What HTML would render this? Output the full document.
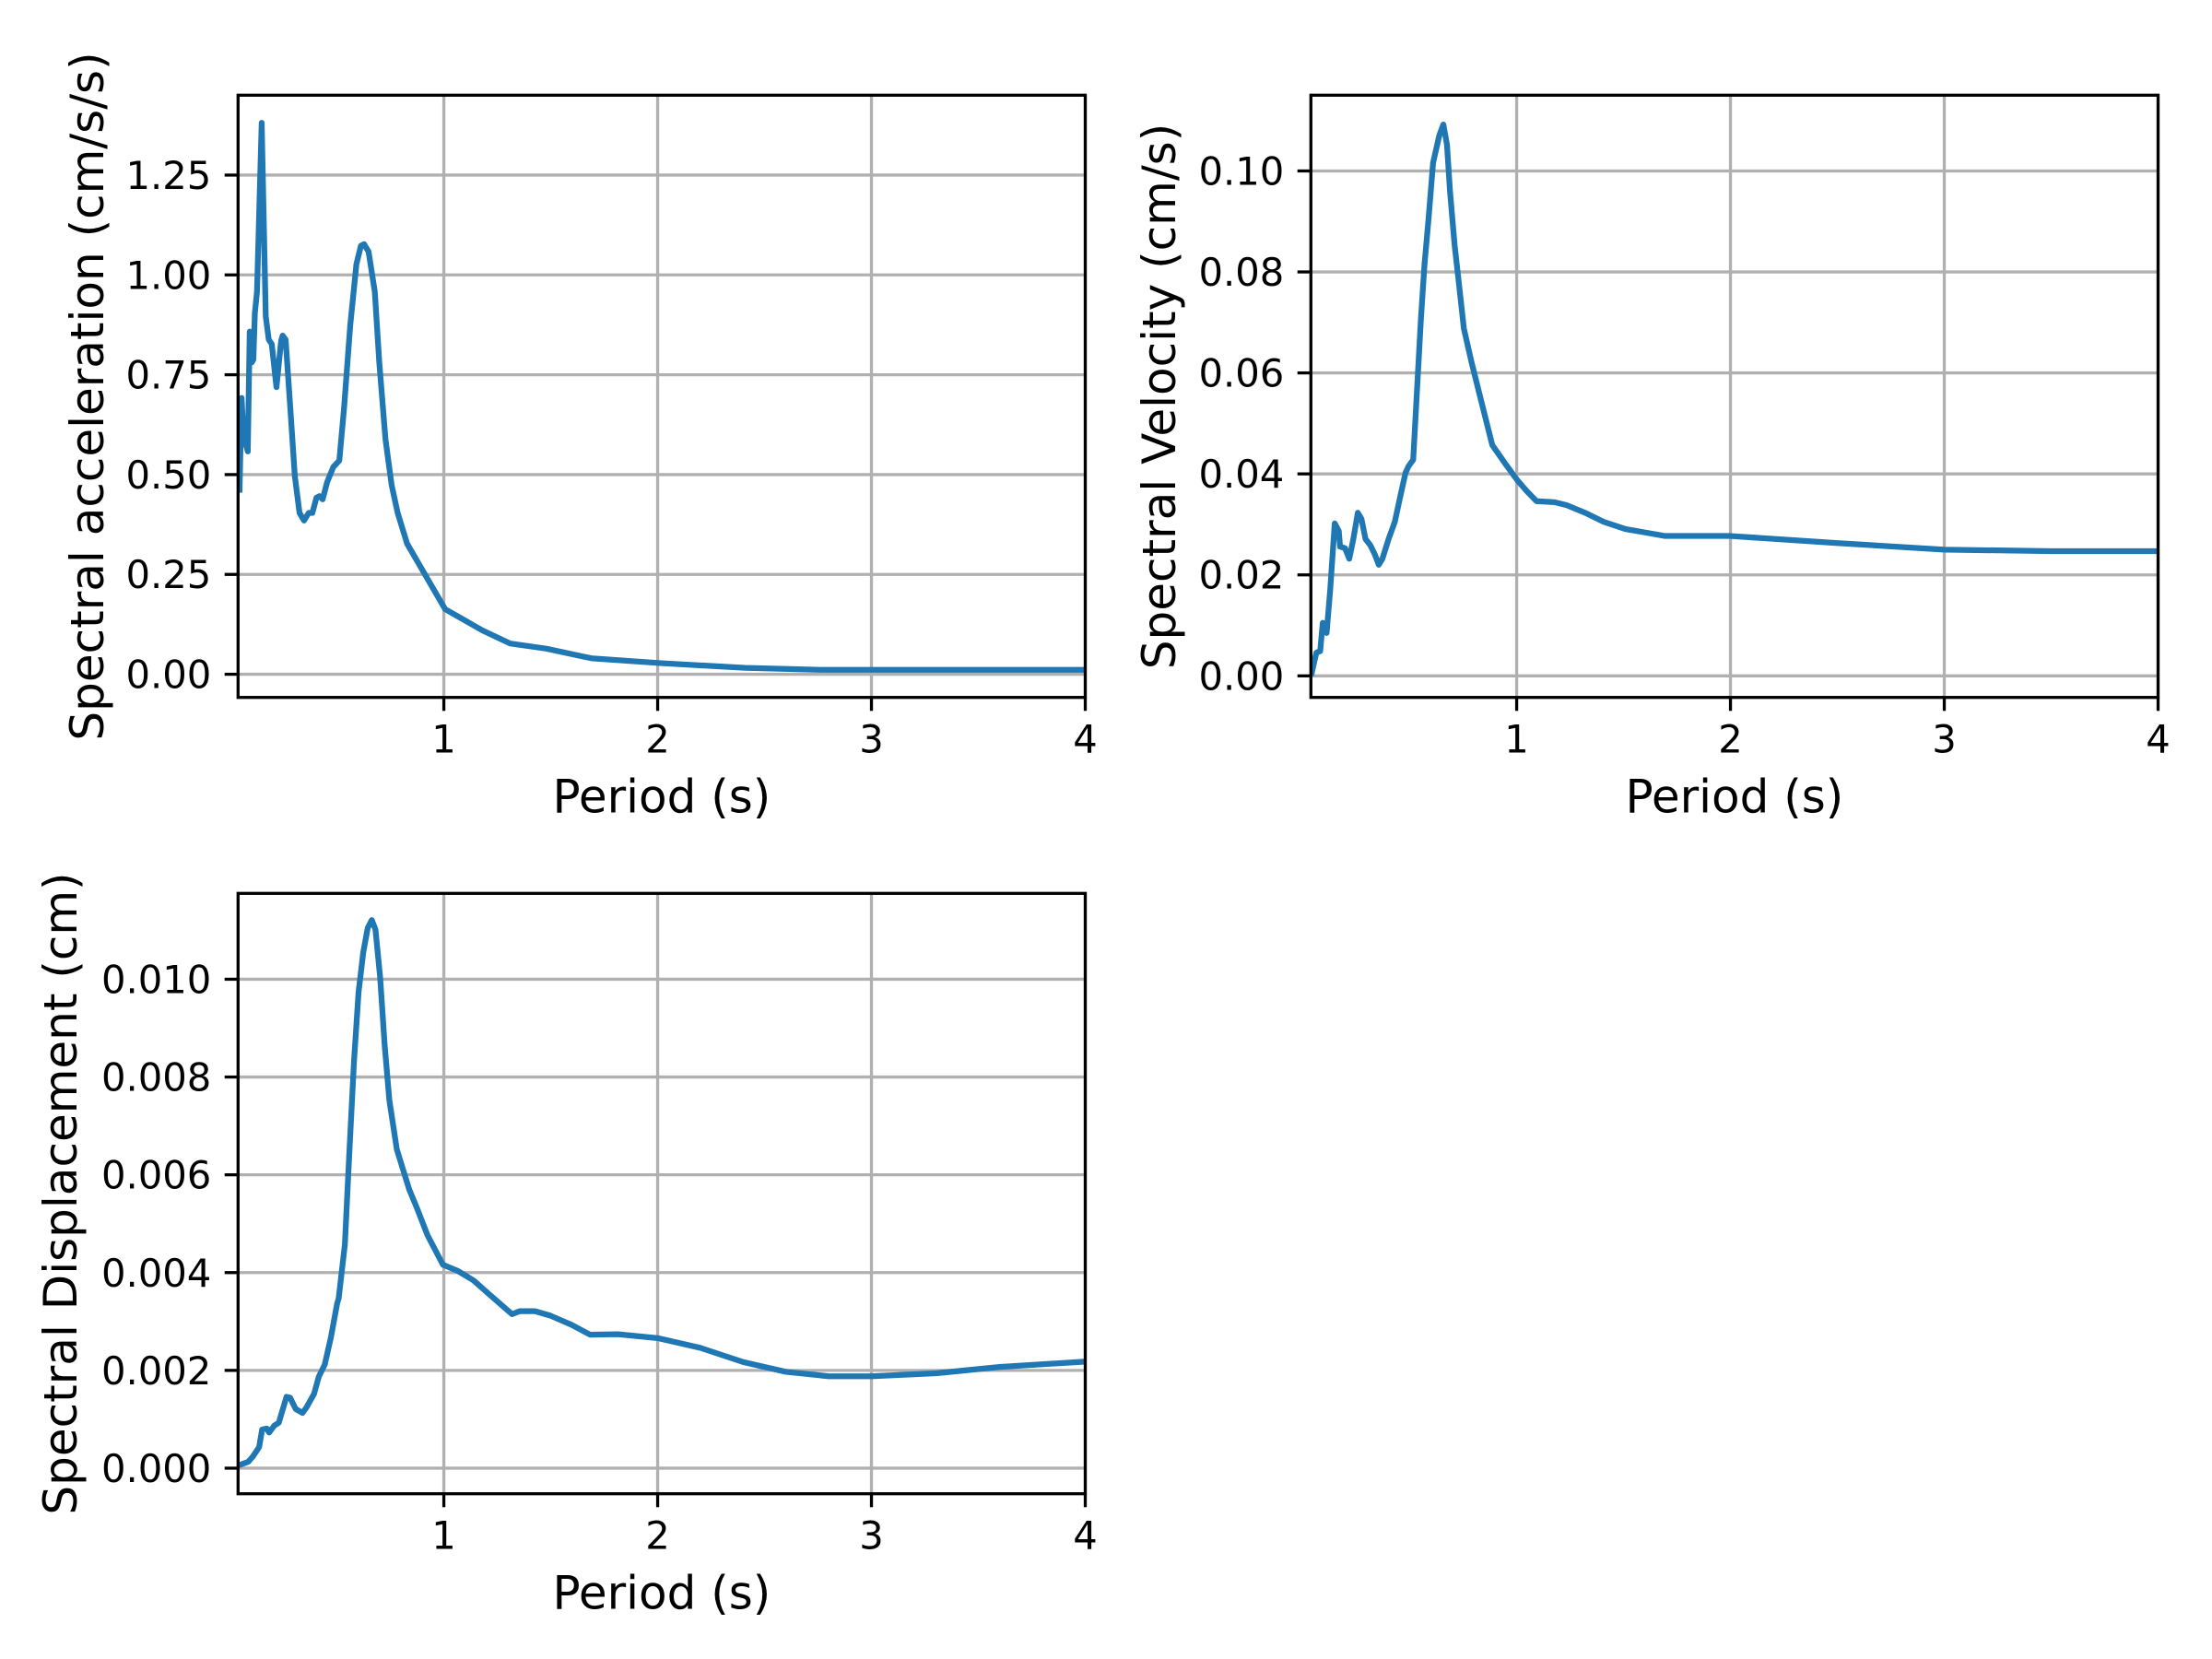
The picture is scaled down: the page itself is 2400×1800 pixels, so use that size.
<!DOCTYPE html>
<html><head><meta charset="utf-8"><style>
html,body{margin:0;padding:0;background:#fff;}
svg{display:block;font-family:"DejaVu Sans","Liberation Sans",sans-serif;}
</style></head><body>
<svg id="fig" width="2400" height="1800" viewBox="0 0 2400 1800" xmlns="http://www.w3.org/2000/svg">
<rect width="2400" height="1800" fill="#fff"/>
</svg>
<script>
// Spectral acceleration (cm/s/s)
const accPeriods = [0.0445,0.054,0.063,0.083,0.092,0.102,0.109,0.116,0.126,0.148,0.167,0.181,0.195,0.217,0.239,0.246,0.260,0.282,0.303,0.325,0.346,0.368,0.385,0.404,0.418,0.433,0.454,0.483,0.511,0.533,0.562,0.591,0.612,0.627,0.648,0.677,0.698,0.727,0.756,0.784,0.828,0.878,1.006,1.18,1.31,1.48,1.69,2.01,2.41,2.77,4.0];
const accValues = [0.462,0.692,0.596,0.558,0.858,0.781,0.788,0.904,0.958,1.381,0.896,0.838,0.827,0.719,0.835,0.848,0.838,0.665,0.496,0.404,0.385,0.404,0.404,0.442,0.446,0.438,0.481,0.519,0.535,0.665,0.873,1.027,1.073,1.077,1.058,0.958,0.781,0.588,0.473,0.404,0.327,0.281,0.163,0.110,0.077,0.064,0.040,0.028,0.016,0.011,0.011];
// Spectral velocity (cm/s)
const velPeriods = [0.0417,0.063,0.081,0.093,0.111,0.128,0.149,0.168,0.174,0.197,0.217,0.236,0.257,0.274,0.293,0.315,0.336,0.355,0.372,0.401,0.430,0.458,0.480,0.494,0.516,0.530,0.552,0.569,0.588,0.609,0.638,0.657,0.674,0.688,0.710,0.731,0.753,0.789,0.832,0.886,0.947,1.004,1.047,1.093,1.177,1.234,1.320,1.407,1.507,1.694,2.0,2.5,3.0,3.5,4.0];
const velValues = [0.0006,0.0046,0.0049,0.0105,0.0085,0.0171,0.0302,0.0287,0.0256,0.0253,0.0232,0.0271,0.0323,0.0311,0.0271,0.0259,0.0241,0.0220,0.0232,0.0271,0.0305,0.0360,0.0402,0.0415,0.0428,0.0536,0.0706,0.0815,0.0906,0.1016,0.1070,0.1092,0.1052,0.0961,0.0852,0.0773,0.0688,0.0621,0.0548,0.0457,0.0420,0.0387,0.0366,0.0346,0.0344,0.0338,0.0323,0.0305,0.0291,0.0277,0.0277,0.0263,0.0250,0.0247,0.0247];
// Spectral displacement (cm)
const dispPeriods = [0.0416,0.085,0.107,0.136,0.150,0.172,0.183,0.207,0.228,0.243,0.264,0.281,0.307,0.339,0.357,0.393,0.415,0.443,0.472,0.501,0.508,0.537,0.558,0.580,0.601,0.623,0.644,0.663,0.680,0.702,0.723,0.745,0.780,0.838,0.874,0.924,0.996,1.067,1.139,1.211,1.319,1.354,1.426,1.498,1.598,1.684,1.814,2.0,2.2,2.4,2.6,2.8,3.0,3.3,3.6,4.0];
const dispValues = [0.00006,0.00013,0.00024,0.00043,0.00079,0.00081,0.00073,0.00087,0.00093,0.00115,0.00146,0.00144,0.00121,0.00113,0.00124,0.00152,0.00187,0.00212,0.00268,0.00337,0.00347,0.00457,0.00646,0.00834,0.00973,0.01055,0.01105,0.01121,0.01102,0.01004,0.00866,0.00753,0.00652,0.00570,0.00532,0.00476,0.00416,0.00403,0.00384,0.00356,0.00315,0.00321,0.00321,0.00312,0.00293,0.00273,0.00274,0.00266,0.00246,0.00217,0.00197,0.00188,0.00188,0.00194,0.00207,0.00218];
const xTicks = [1,2,3,4];
const xTickLabels = ["1","2","3","4"];
const accTicks = [0,0.25,0.5,0.75,1.0,1.25];
const accTickLabels = ["0.00","0.25","0.50","0.75","1.00","1.25"];
const velTicks = [0,0.02,0.04,0.06,0.08,0.10];
const velTickLabels = ["0.00","0.02","0.04","0.06","0.08","0.10"];
const dispTicks = [0,0.002,0.004,0.006,0.008,0.010];
const dispTickLabels = ["0.000","0.002","0.004","0.006","0.008","0.010"];

const NS = "http://www.w3.org/2000/svg";
const svg = document.getElementById('fig');
function mk(tag, attrs, parent){
  const e = document.createElementNS(NS, tag);
  for (const k in attrs) e.setAttribute(k, attrs[k]);
  parent.appendChild(e);
  return e;
}
function panel(cfg){
  const g = mk('g', {}, svg);
  
  
  const L=cfg.left, R=cfg.right, T=cfg.top, B=cfg.bottom;
  const xs = v => L + (v - cfg.xmin) / (cfg.xmax - cfg.xmin) * (R - L);
  const ys = v => B - (v - cfg.ymin) / (cfg.ymax - cfg.ymin) * (B - T);
  cfg.xt.forEach((t,i)=>{
    const ln = mk('line', {x1:xs(t),x2:xs(t),y1:T,y2:B,stroke:'#b0b0b0','stroke-width':3.3}, g);
    
    
  });
  cfg.yt.forEach((t,i)=>{
    const ln = mk('line', {x1:L,x2:R,y1:ys(t),y2:ys(t),stroke:'#b0b0b0','stroke-width':3.3}, g);
    
    
  });
  const clipId = cfg.name + '-clip';
  const cp = mk('clipPath', {id:clipId}, g);
  mk('rect', {x:L,y:T,width:R-L,height:B-T}, cp);
  const d = cfg.px.map((p,i)=>(i?'L':'M')+xs(p).toFixed(2)+','+ys(cfg.py[i]).toFixed(2)).join(' ');
  const path = mk('path', {d:d,fill:'none',stroke:'#1f77b4','stroke-width':6.25,'stroke-linejoin':'round','stroke-linecap':'square','clip-path':'url(#'+clipId+')'}, g);
  
  
  const fr = mk('rect', {x:L,y:T,width:R-L,height:B-T,fill:'none',stroke:'#000','stroke-width':3.3}, g);
  
  
  cfg.xt.forEach((t,i)=>{
    mk('line', {x1:xs(t),x2:xs(t),y1:B,y2:B+14.6,stroke:'#000','stroke-width':3.3}, g);
    const tx = mk('text', {x:xs(t),y:B+60,'font-size':41.7,'text-anchor':'middle',fill:'#000'}, g);
    tx.textContent = cfg.xl[i];
    
    
  });
  cfg.yt.forEach((t,i)=>{
    mk('line', {x1:L-14.6,x2:L,y1:ys(t),y2:ys(t),stroke:'#000','stroke-width':3.3}, g);
    const tx = mk('text', {x:L-29,y:ys(t)+15,'font-size':41.7,'text-anchor':'end',fill:'#000'}, g);
    tx.textContent = cfg.yl[i];
    
    
  });
  const xl = mk('text', {x:(L+R)/2,y:B+125,'font-size':50,'text-anchor':'middle',fill:'#000'}, g);
  xl.textContent = 'Period (s)';
  
  
  const cy = (T+B)/2;
  const yl = mk('text', {x:cfg.ylx,y:cy,'font-size':50,'text-anchor':'middle',dy:'0.32em',fill:'#000',transform:'rotate(-90 '+cfg.ylx+' '+cy+')'}, g);
  yl.textContent = cfg.ytitle;
  
  
}
const X0 = 0.0375, X1 = 4.0;
panel({name:'acceleration-panel',left:258.3,right:1177.5,top:103.3,bottom:756.7,xmin:X0,xmax:X1,ymin:-0.058,ymax:1.45,
  xt:xTicks,xl:xTickLabels,yt:accTicks,yl:accTickLabels,px:accPeriods,py:accValues,ytitle:'Spectral acceleration (cm/s/s)',ylx:96});
panel({name:'velocity-panel',left:1422.3,right:2341.5,top:103.3,bottom:756.7,xmin:X0,xmax:X1,ymin:-0.00427,ymax:0.1150,
  xt:xTicks,xl:xTickLabels,yt:velTicks,yl:velTickLabels,px:velPeriods,py:velValues,ytitle:'Spectral Velocity (cm/s)',ylx:1259});
panel({name:'displacement-panel',left:258.3,right:1177.5,top:969.3,bottom:1620.7,xmin:X0,xmax:X1,ymin:-0.000523,ymax:0.011756,
  xt:xTicks,xl:xTickLabels,yt:dispTicks,yl:dispTickLabels,px:dispPeriods,py:dispValues,ytitle:'Spectral Displacement (cm)',ylx:67});
</script>
</body></html>
